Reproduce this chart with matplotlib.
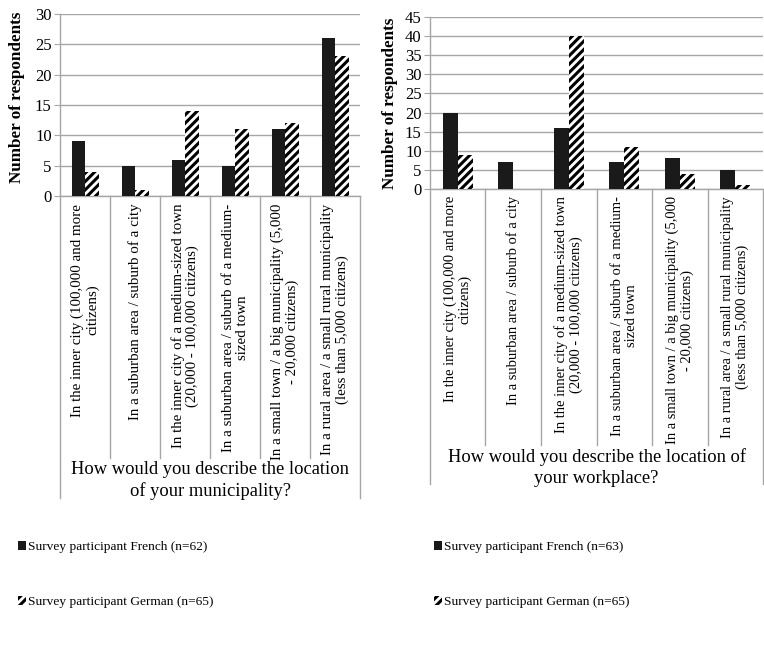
import numpy as np
import matplotlib.pyplot as plt
import matplotlib.transforms as mtransforms

plt.rcParams['font.family'] = ['Liberation Serif', 'DejaVu Serif']
plt.rcParams['hatch.linewidth'] = 2.2

# ==================== 数据 ====================
categories = [
    "In the inner city (100,000 and more\ncitizens)",
    "In a suburban area / suburb of a city",
    "In the inner city of a medium-sized town\n(20,000 - 100,000 citizens)",
    "In a suburban area / suburb of a medium-\nsized town",
    "In a small town / a big municipality (5,000\n- 20,000 citizens)",
    "In a rural area / a small rural municipality\n(less than 5,000 citizens)",
]

muni_french = [9, 5, 6, 5, 11, 26]
muni_german = [4, 1, 14, 11, 12, 23]
work_french = [20, 7, 16, 7, 8, 5]
work_german = [9, 0, 40, 11, 4, 1]

muni_title = "How would you describe the location\nof your municipality?"
work_title = "How would you describe the location of\nyour workplace?"
muni_labels = ["Survey participant French (n=62)", "Survey participant German (n=65)"]
work_labels = ["Survey participant French (n=63)", "Survey participant German (n=65)"]

W, H = 764, 648
fig = plt.figure(figsize=(W / 100, H / 100), dpi=100)


def px_axes(left, top, right, bottom):
    return fig.add_axes([left / W, 1 - bottom / H, (right - left) / W, (bottom - top) / H])


def draw_panel(ax, french, german, ymax, title, labels, sep_depth, outer_depth,
               title_y, ylab_x, ylab_y, cat_fs, leg_x):
    x = np.arange(len(categories))
    w = 0.27
    b1 = ax.bar(x - w / 2, french, w, color='#1a1a1a', linewidth=0, zorder=3)
    b2 = ax.bar(x + w / 2, german, w, color='white', edgecolor='black',
                hatch='////', linewidth=0, zorder=3)

    ax.set_xlim(-0.5, len(categories) - 0.5)
    ax.set_ylim(0, ymax)
    ax.set_yticks(np.arange(0, ymax + 1, 5))
    ax.set_xticks([])
    ax.grid(axis='y', color='#a6a6a6', linewidth=1.0, zorder=0)
    for s in ['top', 'right']:
        ax.spines[s].set_visible(False)
    for s in ['left', 'bottom']:
        ax.spines[s].set_color('#a6a6a6')
        ax.spines[s].set_linewidth(1.0)
    ax.tick_params(axis='y', labelsize=12, length=4, color='#a6a6a6', pad=2)

    ax.set_ylabel("Number of respondents", fontsize=12.3, fontweight='bold')
    ax.yaxis.set_label_coords(ylab_x, ylab_y)

    # 类别分隔线和标签
    trans = mtransforms.blended_transform_factory(ax.transData, ax.transAxes)
    for i in range(len(categories) + 1):
        depth = outer_depth if i in (0, len(categories)) else sep_depth
        ax.plot([i - 0.5, i - 0.5], [0, -depth], transform=trans, color='#a6a6a6',
                linewidth=1.0, clip_on=False)
    for i, c in enumerate(categories):
        ax.text(i, -0.042, c, transform=trans, rotation=90, ha='center', va='top',
                multialignment='center', fontsize=cat_fs, linespacing=1.1)

    ax.text(0.5, title_y, title, transform=ax.transAxes, ha='center', va='top',
            fontsize=13.3, linespacing=1.3)

    ax.legend([b1, b2], labels, loc='upper left', bbox_to_anchor=(leg_x / W, 1 - 541 / H),
              bbox_transform=fig.transFigure, frameon=False, fontsize=9.6,
              handlelength=0.6, handleheight=0.6, handletextpad=0.15,
              labelspacing=3.25, borderpad=0, borderaxespad=0)


ax1 = px_axes(60, 14, 360, 196)
draw_panel(ax1, muni_french, muni_german, 30, muni_title, muni_labels,
           sep_depth=(458 - 196) / 182, outer_depth=(498 - 196) / 182,
           title_y=-(461 - 196) / 182, ylab_x=-0.115, ylab_y=0.54, cat_fs=10.8,
           leg_x=18)

ax2 = px_axes(430, 17, 763, 189)
draw_panel(ax2, work_french, work_german, 45, work_title, work_labels,
           sep_depth=(445 - 189) / 172, outer_depth=(484 - 189) / 172,
           title_y=-(448 - 189) / 172, ylab_x=-0.095, ylab_y=0.5, cat_fs=10.5,
           leg_x=434)

fig.savefig('out.png', dpi=100)
